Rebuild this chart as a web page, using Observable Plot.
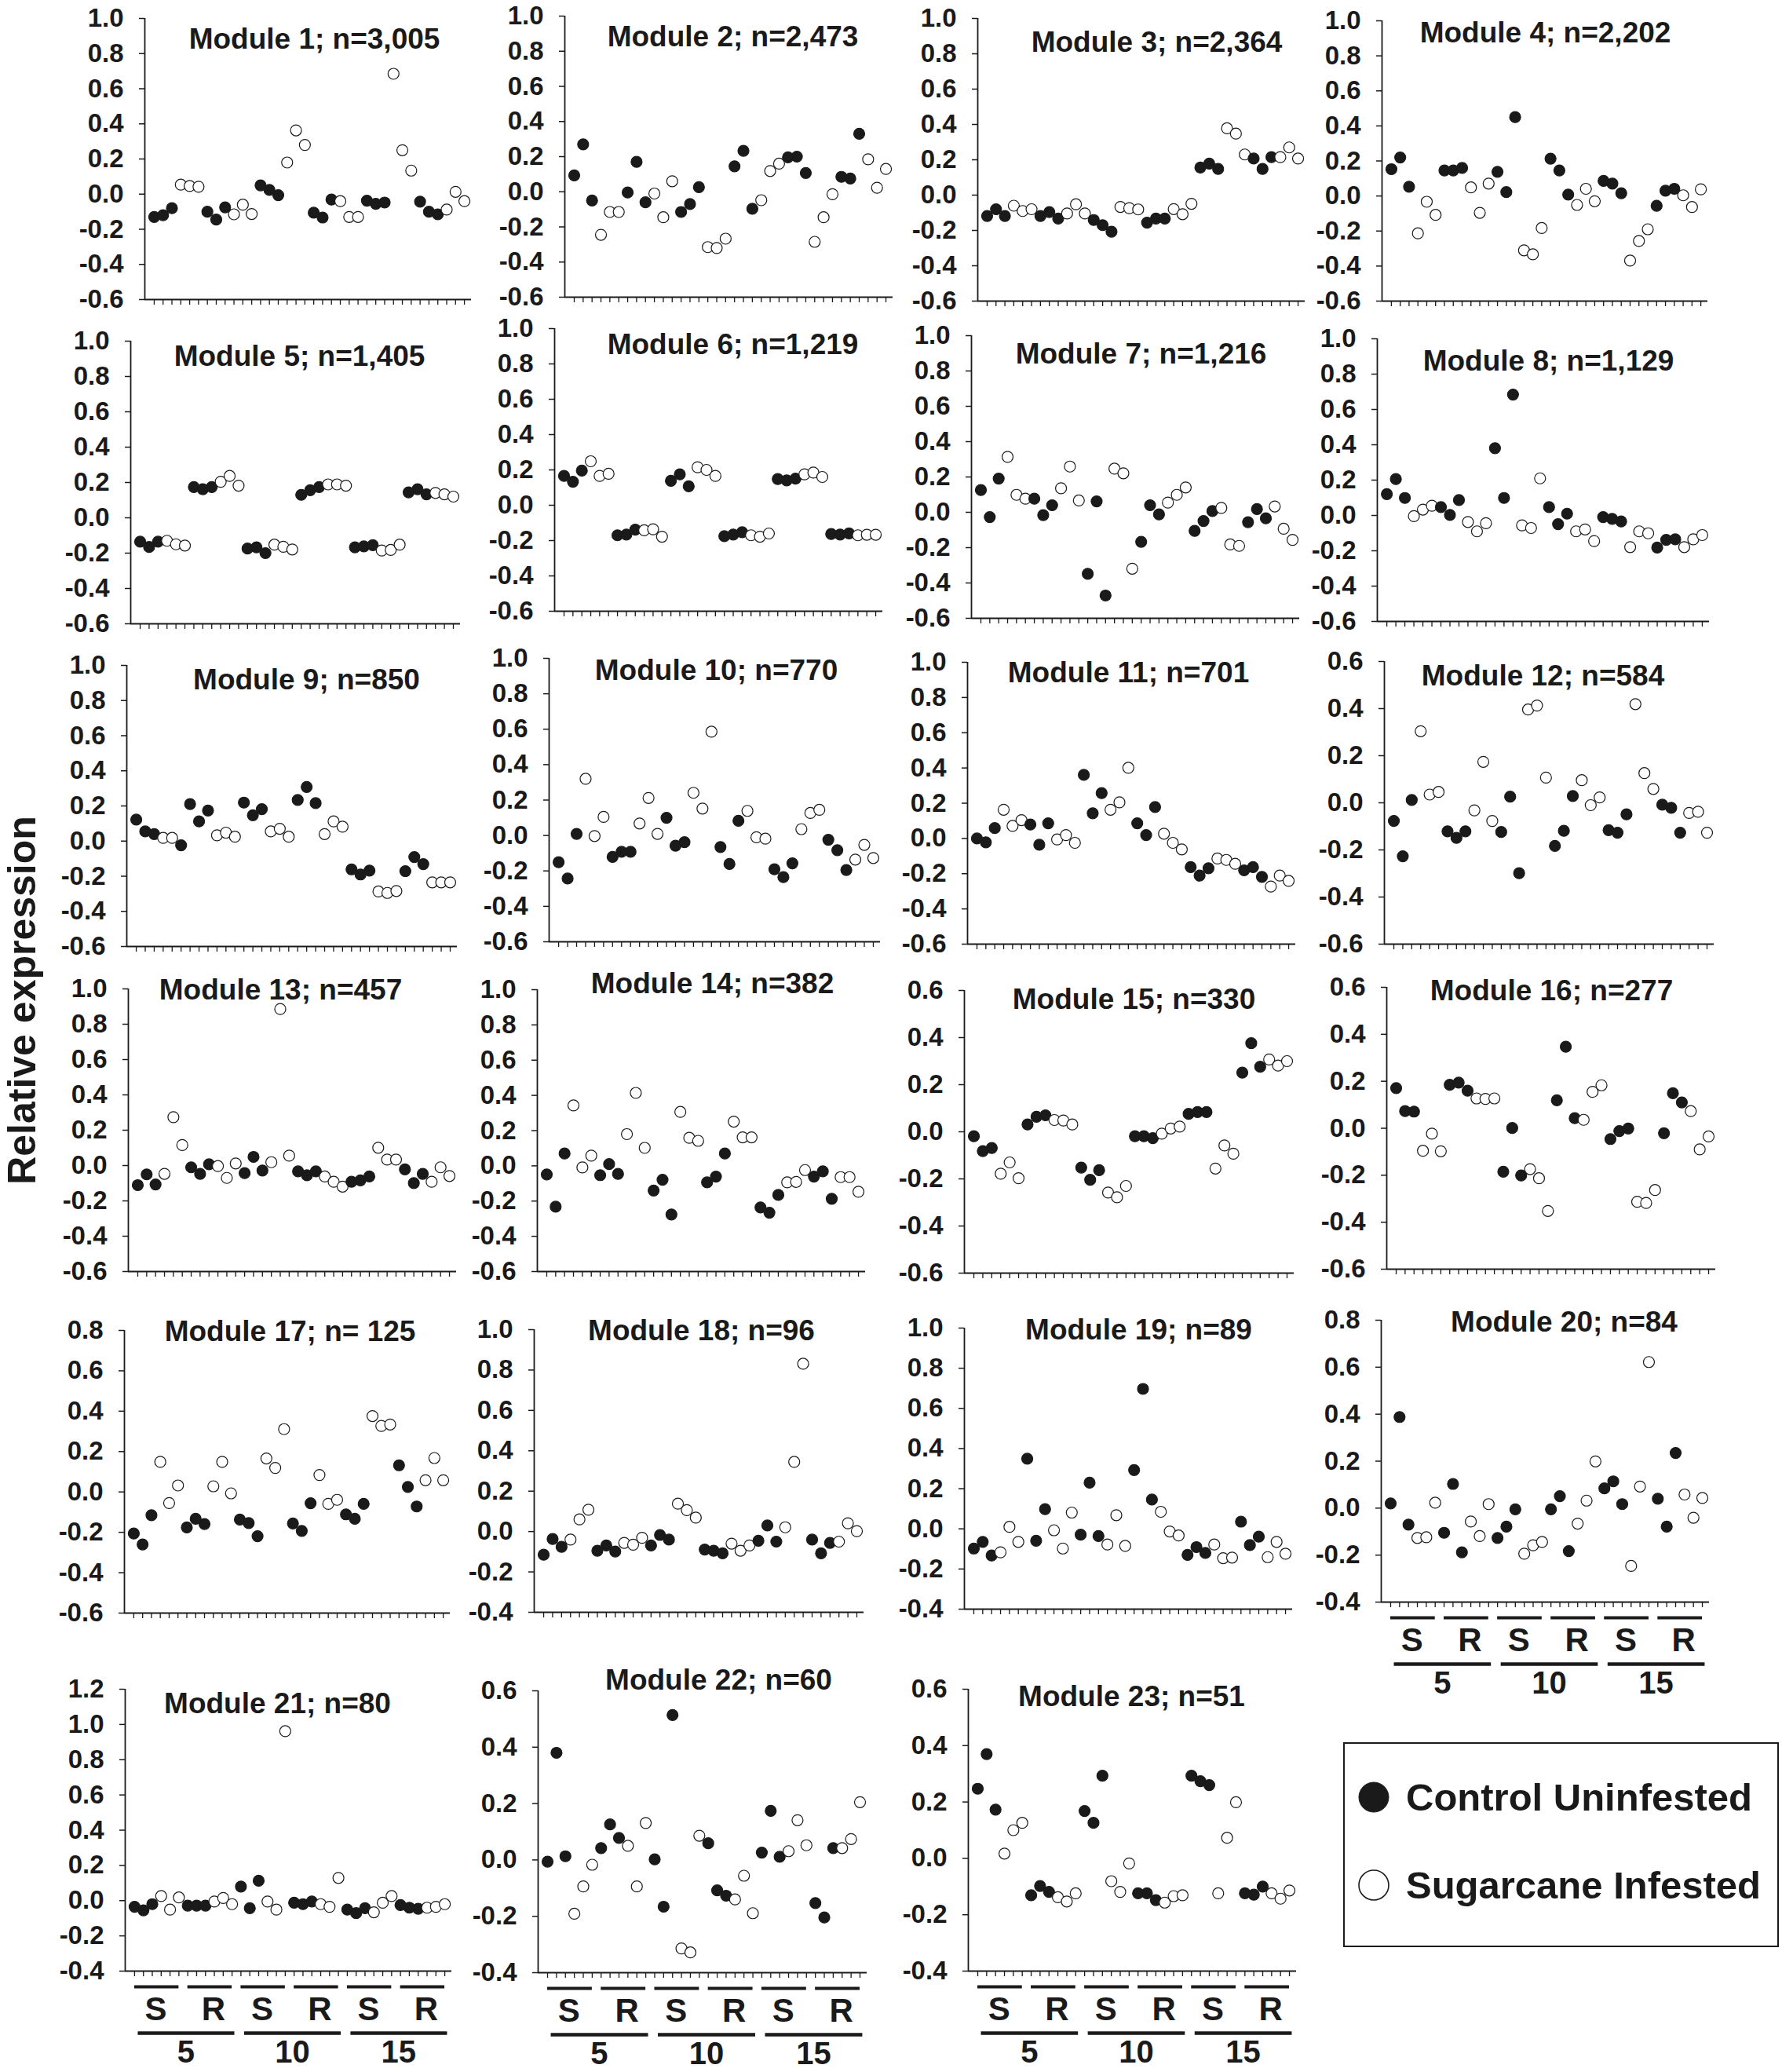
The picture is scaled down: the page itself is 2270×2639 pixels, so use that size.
<!DOCTYPE html>
<html>
<head>
<meta charset="utf-8">
<script src="https://cdn.jsdelivr.net/npm/d3@7"></script>
<script src="https://cdn.jsdelivr.net/npm/@observablehq/plot@0.6"></script>
<style>
  html, body { margin: 0; padding: 0; background: #fff; }
  #root { position: relative; width: 2270px; height: 2639px; background: #fff; overflow: hidden;
          font-family: "Liberation Sans", Arial, sans-serif; font-weight: bold; color: #1a1a1a; }
  .panel { position: absolute; }
  .panel svg { overflow: visible; display: block; }
  #ytitle { position: absolute; left: 28px; top: 1274px; transform: translate(-50%, -50%) rotate(-90deg);
            font-size: 50px; line-height: 1; white-space: nowrap; }
  #legend { position: absolute; left: 1711px; top: 2219px; width: 555px; height: 261px; box-sizing: border-box;
            border: 2px solid #1a1a1a; background: #fff; }
  .lrow { position: absolute; left: 16px; display: flex; align-items: center; font-size: 49px; white-space: nowrap; }
  .lrow svg { margin-right: 20px; }
</style>
</head>
<body>
<div id="root">
  <div id="ytitle">Relative expression</div>
  <div id="legend">
    <div class="lrow" style="top:40px"><svg width="42" height="42"><circle cx="21" cy="21" r="19" fill="#1a1a1a" stroke="#1a1a1a"/></svg><span>Control Uninfested</span></div>
    <div class="lrow" style="top:152px"><svg width="42" height="42"><circle cx="21" cy="21" r="19" fill="#fff" stroke="#1a1a1a" stroke-width="1.6"/></svg><span>Sugarcane Infested</span></div>
  </div>
</div>
<script>
// ---------------- data ----------------
const titles = [
  "Module 1; n=3,005", "Module 2; n=2,473", "Module 3; n=2,364", "Module 4; n=2,202",
  "Module 5; n=1,405", "Module 6; n=1,219", "Module 7; n=1,216", "Module 8; n=1,129",
  "Module 9; n=850", "Module 10; n=770", "Module 11; n=701", "Module 12; n=584",
  "Module 13; n=457", "Module 14; n=382", "Module 15; n=330", "Module 16; n=277",
  "Module 17; n= 125", "Module 18; n=96", "Module 19; n=89", "Module 20; n=84",
  "Module 21; n=80", "Module 22; n=60", "Module 23; n=51"
];
const yMin = [-0.6,-0.6,-0.6,-0.6,-0.6,-0.6,-0.6,-0.6,-0.6,-0.6,-0.6,-0.6,-0.6,-0.6,-0.6,-0.6,-0.6,-0.4,-0.4,-0.4,-0.4,-0.4,-0.4];
const yMax = [1.0,1.0,1.0,1.0,1.0,1.0,1.0,1.0,1.0,1.0,1.0,0.6,1.0,1.0,0.6,0.6,0.8,1.0,1.0,0.8,1.2,0.6,0.6];
const groupLabels = ["S","R","S","R","S","R"];
const dayLabels = ["5","10","15"];
const defaultPattern = "CCCIII".repeat(6);               // C = control uninfested, I = sugarcane infested
const module9Pattern = "CCCIIC" + "CCCIII".repeat(5);

const m1  = [-0.13,-0.12,-0.08,0.054,0.046,0.042,-0.10,-0.145,-0.075,-0.115,-0.06,-0.113,0.05,0.024,-0.006,0.18,0.363,0.28,-0.106,-0.133,-0.031,-0.04,-0.13,-0.13,-0.037,-0.055,-0.048,0.685,0.25,0.134,-0.043,-0.10,-0.115,-0.088,0.013,-0.04];
const m2  = [0.093,0.27,-0.05,-0.245,-0.115,-0.115,-0.004,0.17,-0.06,-0.01,-0.145,0.06,-0.115,-0.07,0.026,-0.315,-0.32,-0.267,0.145,0.233,-0.097,-0.048,0.118,0.16,0.196,0.2,0.107,-0.285,-0.145,-0.014,0.085,0.075,0.33,0.185,0.023,0.13];
const m3  = [-0.118,-0.08,-0.118,-0.06,-0.09,-0.08,-0.118,-0.096,-0.133,-0.104,-0.052,-0.104,-0.141,-0.17,-0.207,-0.067,-0.074,-0.081,-0.156,-0.133,-0.133,-0.079,-0.108,-0.049,0.156,0.178,0.148,0.378,0.348,0.23,0.207,0.148,0.215,0.215,0.27,0.207];
const m4  = [0.153,0.22,0.053,-0.213,-0.033,-0.108,0.146,0.146,0.16,0.049,-0.096,0.071,0.138,0.022,0.45,-0.31,-0.333,-0.183,0.213,0.146,0.008,-0.051,0.041,-0.03,0.086,0.071,0.016,-0.369,-0.257,-0.19,-0.056,0.03,0.041,0.004,-0.063,0.038];
const m5  = [-0.135,-0.165,-0.135,-0.13,-0.15,-0.157,0.174,0.162,0.174,0.204,0.237,0.182,-0.174,-0.167,-0.2,-0.152,-0.164,-0.179,0.13,0.156,0.174,0.189,0.189,0.182,-0.167,-0.162,-0.155,-0.185,-0.182,-0.152,0.144,0.162,0.133,0.141,0.133,0.12];
const m6  = [0.166,0.133,0.196,0.249,0.166,0.178,-0.17,-0.166,-0.138,-0.142,-0.136,-0.178,0.138,0.175,0.107,0.215,0.2,0.166,-0.175,-0.166,-0.153,-0.17,-0.178,-0.16,0.148,0.141,0.151,0.175,0.185,0.16,-0.163,-0.166,-0.159,-0.17,-0.167,-0.167];
const m7  = [0.126,-0.027,0.191,0.314,0.099,0.077,0.077,-0.016,0.04,0.136,0.259,0.067,-0.348,0.062,-0.471,0.247,0.221,-0.319,-0.167,0.04,-0.012,0.055,0.099,0.141,-0.105,-0.049,0.007,0.025,-0.182,-0.19,-0.056,0.018,-0.034,0.033,-0.093,-0.156];
const m8  = [0.121,0.206,0.099,-0.004,0.033,0.055,0.047,0.003,0.087,-0.037,-0.09,-0.044,0.381,0.099,0.684,-0.056,-0.071,0.21,0.047,-0.049,0.01,-0.09,-0.079,-0.145,-0.009,-0.019,-0.034,-0.179,-0.09,-0.101,-0.182,-0.138,-0.135,-0.179,-0.135,-0.111];
const m9  = [0.122,0.055,0.04,0.018,0.018,-0.024,0.211,0.112,0.174,0.033,0.048,0.025,0.219,0.147,0.182,0.055,0.07,0.025,0.234,0.308,0.216,0.04,0.112,0.082,-0.161,-0.19,-0.168,-0.287,-0.295,-0.284,-0.171,-0.091,-0.131,-0.235,-0.235,-0.235];
const m10 = [-0.151,-0.243,0.009,0.32,-0.003,0.105,-0.121,-0.092,-0.092,0.068,0.212,0.009,0.1,-0.058,-0.038,0.241,0.152,0.586,-0.065,-0.161,0.083,0.139,-0.01,-0.018,-0.191,-0.235,-0.157,0.036,0.127,0.145,-0.024,-0.083,-0.195,-0.136,-0.053,-0.127];
const m11 = [0.0,-0.022,0.059,0.163,0.071,0.104,0.079,-0.036,0.086,-0.006,0.019,-0.025,0.361,0.143,0.257,0.163,0.205,0.401,0.086,0.019,0.178,0.027,-0.025,-0.062,-0.163,-0.211,-0.169,-0.114,-0.122,-0.144,-0.181,-0.163,-0.218,-0.273,-0.211,-0.241];
const m12 = [-0.077,-0.227,0.012,0.304,0.035,0.046,-0.121,-0.149,-0.121,-0.032,0.174,-0.077,-0.124,0.026,-0.299,0.396,0.413,0.107,-0.183,-0.119,0.029,0.096,-0.01,0.023,-0.116,-0.127,-0.049,0.419,0.126,0.059,-0.008,-0.021,-0.127,-0.043,-0.038,-0.127];
const m13 = [-0.111,-0.05,-0.107,-0.047,0.274,0.116,-0.01,-0.047,0.007,-0.003,-0.07,0.012,-0.043,0.049,-0.028,0.019,0.886,0.056,-0.033,-0.055,-0.033,-0.062,-0.092,-0.119,-0.092,-0.084,-0.062,0.101,0.034,0.034,-0.022,-0.099,-0.047,-0.092,-0.01,-0.059];
const m14 = [-0.049,-0.232,0.07,0.343,-0.009,0.058,-0.053,0.01,-0.046,0.18,0.414,0.102,-0.14,-0.079,-0.276,0.306,0.159,0.142,-0.094,-0.061,0.07,0.251,0.162,0.162,-0.236,-0.266,-0.165,-0.094,-0.091,-0.024,-0.061,-0.031,-0.187,-0.064,-0.064,-0.147];
const m15 = [-0.019,-0.082,-0.069,-0.178,-0.13,-0.197,0.031,0.064,0.07,0.05,0.048,0.031,-0.152,-0.204,-0.163,-0.258,-0.278,-0.23,-0.019,-0.019,-0.027,-0.008,0.014,0.022,0.076,0.084,0.084,-0.156,-0.058,-0.093,0.251,0.376,0.276,0.307,0.281,0.3];
const m16 = [0.171,0.073,0.071,-0.096,-0.023,-0.098,0.185,0.194,0.16,0.127,0.125,0.127,-0.185,0.001,-0.201,-0.174,-0.213,-0.352,0.119,0.347,0.043,0.036,0.155,0.183,-0.046,-0.012,-0.001,-0.313,-0.318,-0.263,-0.021,0.149,0.11,0.073,-0.09,-0.035];
const m17 = [-0.206,-0.26,-0.115,0.149,-0.055,0.032,-0.176,-0.133,-0.159,0.028,0.149,-0.007,-0.137,-0.154,-0.219,0.166,0.119,0.311,-0.156,-0.193,-0.056,0.084,-0.059,-0.039,-0.111,-0.133,-0.059,0.376,0.327,0.334,0.132,0.025,-0.072,0.058,0.168,0.058];
const m18 = [-0.115,-0.037,-0.076,-0.04,0.06,0.108,-0.095,-0.069,-0.099,-0.056,-0.065,-0.031,-0.069,-0.017,-0.04,0.138,0.106,0.069,-0.089,-0.095,-0.108,-0.06,-0.095,-0.069,-0.046,0.03,-0.05,0.021,0.345,0.831,-0.04,-0.108,-0.056,-0.05,0.041,0.002];
const m19 = [-0.098,-0.065,-0.133,-0.117,0.01,-0.065,0.349,-0.059,0.098,-0.007,-0.098,0.081,-0.029,0.23,-0.036,-0.078,0.068,-0.085,0.293,0.697,0.146,0.085,-0.013,-0.033,-0.13,-0.091,-0.12,-0.078,-0.146,-0.143,0.036,-0.081,-0.039,-0.141,-0.065,-0.124];
const m20 = [0.02,0.388,-0.07,-0.127,-0.124,0.023,-0.105,0.103,-0.188,-0.057,-0.119,0.017,-0.127,-0.079,-0.005,-0.194,-0.158,-0.144,-0.005,0.051,-0.183,-0.066,0.032,0.199,0.084,0.114,0.017,-0.246,0.092,0.622,0.04,-0.079,0.235,0.058,-0.041,0.043];
const m21 = [-0.035,-0.055,-0.02,0.026,-0.051,0.018,-0.028,-0.028,-0.028,-0.005,0.015,-0.02,0.08,-0.043,0.113,-0.005,-0.051,0.962,-0.012,-0.02,-0.005,-0.02,-0.035,0.129,-0.051,-0.071,-0.043,-0.066,-0.012,0.026,-0.025,-0.04,-0.046,-0.04,-0.035,-0.02];
const m22 = [-0.006,0.38,0.013,-0.191,-0.094,-0.017,0.042,0.126,0.078,0.05,-0.094,0.131,0.002,-0.166,0.514,-0.314,-0.328,0.086,0.059,-0.108,-0.127,-0.14,-0.056,-0.189,0.026,0.174,0.011,0.031,0.141,0.052,-0.153,-0.204,0.042,0.042,0.074,0.205];
const m23 = [0.247,0.37,0.173,0.017,0.1,0.126,-0.131,-0.098,-0.119,-0.138,-0.153,-0.124,0.168,0.126,0.293,-0.081,-0.119,-0.018,-0.124,-0.124,-0.148,-0.157,-0.134,-0.131,0.293,0.274,0.26,-0.124,0.073,0.199,-0.124,-0.129,-0.1,-0.124,-0.143,-0.114];

const modules = [m1,m2,m3,m4,m5,m6,m7,m8,m9,m10,m11,m12,m13,m14,m15,m16,m17,m18,m19,m20,m21,m22,m23];
const patterns = modules.map((_, k) => k === 8 ? module9Pattern : defaultPattern);

// ---------------- layout (page pixels) ----------------
// [y-axis x, top tick y, bottom tick y, x-axis end, title centre x, title offset below top]
const layout = [
  [184, 23, 381, 600, 400, 27], [719, 20, 378, 1137, 933, 27], [1245, 23, 383, 1662, 1473, 31], [1760, 26, 383, 2175, 1968, 16],
  [166, 434, 794, 586, 381, 20], [706, 418, 778, 1124, 933, 21], [1237, 427, 787, 1655, 1453, 24], [1754, 431, 791, 2177, 1972, 29],
  [161, 847, 1205, 582, 390, 19], [699, 838, 1199, 1121, 912, 16], [1232, 843, 1202, 1650, 1437, 14], [1763, 842, 1202, 2183, 1965, 19],
  [163, 1259, 1619, 581, 357, 2], [684, 1260, 1619, 1102, 907, -7], [1228, 1261, 1621, 1648, 1444, 12], [1766, 1257, 1616, 2185, 1976, 5],
  [158, 1694, 2054, 573, 369, 2], [680, 1693, 2053, 1100, 893, 2], [1228, 1691, 2049, 1646, 1450, 3], [1759, 1681, 2040, 2177, 1992, 3],
  [159, 2151, 2510, 575, 353, 19], [685, 2153, 2512, 1104, 915, -13], [1233, 2151, 2510, 1651, 1441, 10]
];
const labelledPanels = [19, 20, 21, 22];

// ---------------- drawing ----------------
const INK = "#1a1a1a";
const X0 = -1.057, X1 = 35.79;
const idx = d3.range(36);
const fmt = d => (Math.abs(d) < 1e-9 ? 0 : d).toFixed(1);
const root = document.getElementById("root");

modules.forEach((vals, k) => {
  const [ax, yT, yB, xE, tcx, tdy] = layout[k];
  const mL = 120, mR = 20, mT = 60, mB = 140;
  const width = mL + (xE - ax) + mR;
  const height = mT + (yB - yT) + mB;
  const lo = yMin[k], hi = yMax[k];
  const nT = Math.round((hi - lo) / 0.2);
  const yTicks = d3.range(nT + 1).map(i => +(lo + i * 0.2).toFixed(1));
  const pts = vals.map((v, i) => ({i, v, t: patterns[k][i]}));

  const marks = [
    Plot.axisY({ticks: yTicks, tickFormat: fmt, tickSize: 7, tickPadding: 20, strokeWidth: 1.5}),
    Plot.axisX({ticks: idx, tickFormat: () => "", tickSize: 7, strokeWidth: 1.3}),
    Plot.ruleX([X0], {stroke: INK, strokeWidth: 1.8}),
    Plot.ruleY([lo], {stroke: INK, strokeWidth: 1.8}),
    Plot.dot(pts, {x: "i", y: "v", fill: "t", stroke: INK, strokeWidth: 1.2, r: 7}),
    Plot.text([titles[k]], {frameAnchor: "top", lineAnchor: "middle", dx: tcx - (ax + xE) / 2, dy: tdy,
                            fontSize: 37, fontWeight: "bold", fill: INK})
  ];

  if (labelledPanels.includes(k)) {
    const gd = groupLabels.map((lab, g) => ({lab, g}));
    const dd = dayLabels.map((lab, d) => ({lab, d}));
    marks.push(
      Plot.ruleY(gd, {y: () => lo, x1: d => d.g * 6, x2: d => d.g * 6 + 5, dy: 20, stroke: INK, strokeWidth: 4}),
      Plot.text(gd, {x: d => d.g * 6 + (d.lab === "R" ? 2.9 : 2.4), text: "lab", frameAnchor: "bottom", lineAnchor: "middle", dy: 49,
                     fontSize: 42, fontWeight: "bold", fill: INK}),
      Plot.ruleY(dd, {y: () => lo, x1: d => d.d * 12 + 0.4, x2: d => d.d * 12 + 11.3, dy: 79, stroke: INK, strokeWidth: 4.5}),
      Plot.text(dd, {x: d => d.d * 12 + 5.8, text: "lab", frameAnchor: "bottom", lineAnchor: "middle", dy: 104,
                     fontSize: 40, fontWeight: "bold", fill: INK})
    );
  }

  const svg = Plot.plot({
    width, height,
    marginLeft: mL, marginRight: mR, marginTop: mT, marginBottom: mB,
    x: {domain: [X0, X1], label: null},
    y: {domain: [lo, hi], label: null},
    color: {domain: ["C", "I"], range: [INK, "#ffffff"]},
    style: {background: "transparent", overflow: "visible", color: INK,
            fontFamily: '"Liberation Sans", Arial, sans-serif', fontWeight: "bold", fontSize: "33px"},
    marks
  });
  const holder = document.createElement("div");
  holder.className = "panel";
  holder.style.left = (ax - mL) + "px";
  holder.style.top = (yT - mT) + "px";
  holder.appendChild(svg);
  root.appendChild(holder);
});
</script>
</body>
</html>
